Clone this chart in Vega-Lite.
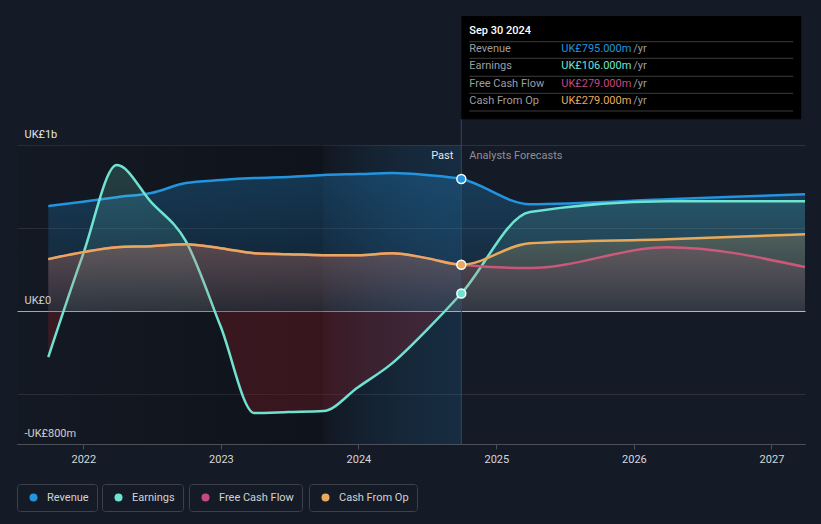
{
  "$schema": "https://vega.github.io/schema/vega-lite/v6.json",
  "width": 788,
  "height": 299,
  "autosize": {"type": "none"},
  "padding": {"left": 17, "top": 145, "right": 16, "bottom": 80},
  "background": "#151b26",
  "config": {
    "view": {"stroke": null},
    "font": "Roboto",
    "axis": {"labelFont": "Roboto", "title": null},
    "legend": {"labelFont": "Roboto"},
    "text": {"font": "Roboto"}
  },
  "data": {
    "values": [
      {"date": "2021-09-30", "series": "Revenue", "value": 632},
      {"date": "2021-12-31", "series": "Revenue", "value": 658},
      {"date": "2022-03-31", "series": "Revenue", "value": 686},
      {"date": "2022-06-30", "series": "Revenue", "value": 711},
      {"date": "2022-09-30", "series": "Revenue", "value": 771},
      {"date": "2022-12-31", "series": "Revenue", "value": 789},
      {"date": "2023-03-31", "series": "Revenue", "value": 801},
      {"date": "2023-06-30", "series": "Revenue", "value": 807},
      {"date": "2023-09-30", "series": "Revenue", "value": 819},
      {"date": "2023-12-31", "series": "Revenue", "value": 825},
      {"date": "2024-03-31", "series": "Revenue", "value": 831},
      {"date": "2024-06-30", "series": "Revenue", "value": 819},
      {"date": "2024-09-30", "series": "Revenue", "value": 795},
      {"date": "2025-03-31", "series": "Revenue", "value": 644},
      {"date": "2026-03-31", "series": "Revenue", "value": 674},
      {"date": "2027-03-31", "series": "Revenue", "value": 704},
      {"date": "2021-09-30", "series": "Earnings", "value": -277},
      {"date": "2021-12-31", "series": "Earnings", "value": 340},
      {"date": "2022-03-31", "series": "Earnings", "value": 879},
      {"date": "2022-06-30", "series": "Earnings", "value": 656},
      {"date": "2022-09-30", "series": "Earnings", "value": 421},
      {"date": "2022-12-31", "series": "Earnings", "value": -90},
      {"date": "2023-03-31", "series": "Earnings", "value": -614},
      {"date": "2023-06-30", "series": "Earnings", "value": -608},
      {"date": "2023-09-30", "series": "Earnings", "value": -602},
      {"date": "2023-12-31", "series": "Earnings", "value": -458},
      {"date": "2024-03-31", "series": "Earnings", "value": -313},
      {"date": "2024-06-30", "series": "Earnings", "value": -114},
      {"date": "2024-09-30", "series": "Earnings", "value": 106},
      {"date": "2025-03-31", "series": "Earnings", "value": 596},
      {"date": "2026-03-31", "series": "Earnings", "value": 662},
      {"date": "2027-03-31", "series": "Earnings", "value": 662},
      {"date": "2021-09-30", "series": "Free Cash Flow", "value": 313},
      {"date": "2021-12-31", "series": "Free Cash Flow", "value": 355},
      {"date": "2022-03-31", "series": "Free Cash Flow", "value": 385},
      {"date": "2022-06-30", "series": "Free Cash Flow", "value": 391},
      {"date": "2022-09-30", "series": "Free Cash Flow", "value": 403},
      {"date": "2022-12-31", "series": "Free Cash Flow", "value": 379},
      {"date": "2023-03-31", "series": "Free Cash Flow", "value": 349},
      {"date": "2023-06-30", "series": "Free Cash Flow", "value": 343},
      {"date": "2023-09-30", "series": "Free Cash Flow", "value": 337},
      {"date": "2023-12-31", "series": "Free Cash Flow", "value": 337},
      {"date": "2024-03-31", "series": "Free Cash Flow", "value": 349},
      {"date": "2024-06-30", "series": "Free Cash Flow", "value": 319},
      {"date": "2024-09-30", "series": "Free Cash Flow", "value": 279},
      {"date": "2025-03-31", "series": "Free Cash Flow", "value": 259},
      {"date": "2026-03-31", "series": "Free Cash Flow", "value": 385},
      {"date": "2027-03-31", "series": "Free Cash Flow", "value": 265},
      {"date": "2021-09-30", "series": "Cash From Op", "value": 313},
      {"date": "2021-12-31", "series": "Cash From Op", "value": 355},
      {"date": "2022-03-31", "series": "Cash From Op", "value": 385},
      {"date": "2022-06-30", "series": "Cash From Op", "value": 391},
      {"date": "2022-09-30", "series": "Cash From Op", "value": 403},
      {"date": "2022-12-31", "series": "Cash From Op", "value": 379},
      {"date": "2023-03-31", "series": "Cash From Op", "value": 349},
      {"date": "2023-06-30", "series": "Cash From Op", "value": 343},
      {"date": "2023-09-30", "series": "Cash From Op", "value": 337},
      {"date": "2023-12-31", "series": "Cash From Op", "value": 337},
      {"date": "2024-03-31", "series": "Cash From Op", "value": 349},
      {"date": "2024-06-30", "series": "Cash From Op", "value": 319},
      {"date": "2024-09-30", "series": "Cash From Op", "value": 279},
      {"date": "2025-03-31", "series": "Cash From Op", "value": 409},
      {"date": "2026-03-31", "series": "Cash From Op", "value": 433},
      {"date": "2027-03-31", "series": "Cash From Op", "value": 463}
    ],
    "format": {"parse": {"date": "date"}}
  },
  "resolve": {"scale": {"color": "independent"}, "legend": {"color": "independent"}},
  "layer": [
    {
      "data": {"values": [{}]},
      "mark": {"type": "rect", "fill": {"gradient": "linear", "x1": 0, "y1": 0, "x2": 1, "y2": 0, "stops": [{"offset": 0, "color": "rgba(0,0,0,0.08)"}, {"offset": 1, "color": "rgba(0,0,0,0.3)"}]}},
      "encoding": {
        "x": {"datum": {"year": 2021, "month": 7, "date": 9}, "type": "temporal"},
        "x2": {"datum": {"year": 2023, "month": 9, "date": 30}},
        "y": {"datum": 1000, "type": "quantitative"},
        "y2": {"datum": -800}
      }
    },
    {
      "data": {"values": [{}]},
      "mark": {"type": "rect", "fill": {"gradient": "linear", "x1": 0, "y1": 0, "x2": 1, "y2": 0, "stops": [{"offset": 0, "color": "rgba(8,12,20,0.25)"}, {"offset": 1, "color": "rgba(35,148,223,0.14)"}]}},
      "encoding": {
        "x": {"datum": {"year": 2023, "month": 9, "date": 30}, "type": "temporal"},
        "x2": {"datum": {"year": 2024, "month": 9, "date": 30}},
        "y": {"datum": 1000, "type": "quantitative"},
        "y2": {"datum": -800}
      }
    },
    {
      "transform": [{"filter": "datum.series == 'Revenue'"}],
      "mark": {"type": "area", "interpolate": "monotone", "fill": {"gradient": "linear", "x1": 0, "y1": 0, "x2": 0, "y2": 1, "stops": [{"offset": 0, "color": "rgba(35,148,223,0.28)"}, {"offset": 1, "color": "rgba(35,148,223,0.08)"}]}},
      "encoding": {
        "x": {"field": "date", "type": "temporal", "title": null, "scale": {"domain": [{"year": 2021, "month": 7, "date": 9}, {"year": 2027, "month": 3, "date": 31}]}},
        "y": {"field": "value", "type": "quantitative", "title": null, "scale": {"domain": [-800, 1000], "nice": false, "zero": false}},
        "y2": {"datum": 0}
      }
    },
    {
      "transform": [{"filter": "datum.series == 'Revenue'"}],
      "mark": {"type": "line", "interpolate": "monotone", "strokeWidth": 2.5},
      "encoding": {
        "x": {"field": "date", "type": "temporal", "title": null,
          "scale": {"domain": [{"year": 2021, "month": 7, "date": 9}, {"year": 2027, "month": 3, "date": 31}]},
          "axis": {"values": [{"year": 2022, "month": 1, "date": 1}, {"year": 2023, "month": 1, "date": 1}, {"year": 2024, "month": 1, "date": 1}, {"year": 2025, "month": 1, "date": 1}, {"year": 2026, "month": 1, "date": 1}, {"year": 2027, "month": 1, "date": 1}],
            "format": "%Y", "grid": false, "domain": true, "domainColor": "#4a4f58", "ticks": true, "tickColor": "#4a4f58", "tickSize": 5, "labelColor": "#d6d8db", "labelFontSize": 11, "labelPadding": 4, "labelOverlap": false, "labelFlush": false}},
        "y": {"field": "value", "type": "quantitative", "title": null,
          "scale": {"domain": [-800, 1000], "nice": false, "zero": false},
          "axis": {"values": [1000, 500, 0, -500, -800],
            "labelExpr": "datum.value == 1000 ? 'UK£1b' : datum.value == 0 ? 'UK£0' : datum.value == -800 ? '-UK£800m' : ''",
            "grid": true, "gridWidth": 1,
            "gridColor": {"condition": [{"test": "datum.value === 0", "value": "#b4b7bc"}, {"test": "datum.value === -800", "value": "#4a4f58"}], "value": "#2c313b"},
            "domain": false, "ticks": false, "tickSize": 0, "labelAlign": "left", "labelPadding": -7, "labelBaseline": "alphabetic", "labelOffset": -8, "labelColor": "#e2e3e5", "labelFontSize": 11, "labelOverlap": false}},
        "color": {"datum": "Revenue", "type": "nominal", "scale": {"range": ["#2394df"]},
          "legend": {"orient": "none", "legendX": 0, "legendY": 339, "title": null, "symbolType": "circle", "symbolSize": 64, "symbolFillColor": "#2394df", "symbolStrokeWidth": 0, "padding": 8, "symbolOffset": 3, "labelOffset": 8, "strokeColor": "#3b404b", "cornerRadius": 3, "labelColor": "#d0d2d5", "labelFontSize": 11}}
      }
    },
    {
      "transform": [{"filter": "datum.series == 'Earnings'"}],
      "mark": {"type": "area", "interpolate": "monotone", "fill": {"gradient": "linear", "x1": 0, "y1": 0, "x2": 0, "y2": 1, "stops": [{"offset": 0, "color": "rgba(111,227,209,0.2)"}, {"offset": 0.588, "color": "rgba(111,227,209,0.05)"}, {"offset": 0.589, "color": "rgba(200,30,40,0.22)"}, {"offset": 1, "color": "rgba(200,30,40,0.22)"}]}},
      "encoding": {
        "x": {"field": "date", "type": "temporal", "title": null},
        "y": {"field": "value", "type": "quantitative", "title": null},
        "y2": {"datum": 0}
      }
    },
    {
      "transform": [{"filter": "datum.series == 'Earnings'"}],
      "mark": {"type": "line", "interpolate": "monotone", "strokeWidth": 2.5},
      "encoding": {
        "x": {"field": "date", "type": "temporal", "title": null},
        "y": {"field": "value", "type": "quantitative", "title": null},
        "color": {"datum": "Earnings", "type": "nominal", "scale": {"range": ["#6fe3d1"]},
          "legend": {"orient": "none", "legendX": 85, "legendY": 339, "title": null, "symbolType": "circle", "symbolSize": 64, "symbolFillColor": "#6fe3d1", "symbolStrokeWidth": 0, "padding": 8, "symbolOffset": 3, "labelOffset": 8, "strokeColor": "#3b404b", "cornerRadius": 3, "labelColor": "#d0d2d5", "labelFontSize": 11}}
      }
    },
    {
      "transform": [{"filter": "datum.series == 'Free Cash Flow'"}],
      "mark": {"type": "area", "interpolate": "monotone", "fill": {"gradient": "linear", "x1": 0, "y1": 0, "x2": 0, "y2": 1, "stops": [{"offset": 0, "color": "rgba(197,72,127,0.18)"}, {"offset": 1, "color": "rgba(197,72,127,0.06)"}]}},
      "encoding": {
        "x": {"field": "date", "type": "temporal", "title": null},
        "y": {"field": "value", "type": "quantitative", "title": null},
        "y2": {"datum": 0}
      }
    },
    {
      "transform": [{"filter": "datum.series == 'Free Cash Flow'"}],
      "mark": {"type": "line", "interpolate": "monotone", "strokeWidth": 2.5},
      "encoding": {
        "x": {"field": "date", "type": "temporal", "title": null},
        "y": {"field": "value", "type": "quantitative", "title": null},
        "color": {"datum": "Free Cash Flow", "type": "nominal", "scale": {"range": ["#c5487f"]},
          "legend": {"orient": "none", "legendX": 172, "legendY": 339, "title": null, "symbolType": "circle", "symbolSize": 64, "symbolFillColor": "#c5487f", "symbolStrokeWidth": 0, "padding": 8, "symbolOffset": 3, "labelOffset": 8, "strokeColor": "#3b404b", "cornerRadius": 3, "labelColor": "#d0d2d5", "labelFontSize": 11}}
      }
    },
    {
      "transform": [{"filter": "datum.series == 'Cash From Op'"}],
      "mark": {"type": "area", "interpolate": "monotone", "fill": {"gradient": "linear", "x1": 0, "y1": 0, "x2": 0, "y2": 1, "stops": [{"offset": 0, "color": "rgba(230,168,90,0.22)"}, {"offset": 1, "color": "rgba(230,168,90,0.06)"}]}},
      "encoding": {
        "x": {"field": "date", "type": "temporal", "title": null},
        "y": {"field": "value", "type": "quantitative", "title": null},
        "y2": {"datum": 0}
      }
    },
    {
      "transform": [{"filter": "datum.series == 'Cash From Op'"}],
      "mark": {"type": "line", "interpolate": "monotone", "strokeWidth": 2.5},
      "encoding": {
        "x": {"field": "date", "type": "temporal", "title": null},
        "y": {"field": "value", "type": "quantitative", "title": null},
        "color": {"datum": "Cash From Op", "type": "nominal", "scale": {"range": ["#e8a95c"]},
          "legend": {"orient": "none", "legendX": 292, "legendY": 339, "title": null, "symbolType": "circle", "symbolSize": 64, "symbolFillColor": "#e8a95c", "symbolStrokeWidth": 0, "padding": 8, "symbolOffset": 3, "labelOffset": 8, "strokeColor": "#3b404b", "cornerRadius": 3, "labelColor": "#d0d2d5", "labelFontSize": 11}}
      }
    },
    {
      "data": {"values": [{}]},
      "mark": {"type": "rule", "stroke": "#2a4a68", "strokeWidth": 1},
      "encoding": {
        "x": {"datum": {"year": 2024, "month": 9, "date": 30}, "type": "temporal"},
        "y": {"datum": -800, "type": "quantitative"},
        "y2": {"datum": 1154.7}
      }
    },
    {
      "transform": [{"filter": "datum.series == 'Revenue' && year(datum.date) == 2024 && month(datum.date) == 8"}],
      "mark": {"type": "circle", "size": 80, "fill": "#2394df", "stroke": "#ffffff", "strokeWidth": 1.5, "opacity": 1},
      "encoding": {
        "x": {"field": "date", "type": "temporal", "title": null},
        "y": {"field": "value", "type": "quantitative", "title": null}
      }
    },
    {
      "transform": [{"filter": "datum.series == 'Earnings' && year(datum.date) == 2024 && month(datum.date) == 8"}],
      "mark": {"type": "circle", "size": 80, "fill": "#6fe3d1", "stroke": "#ffffff", "strokeWidth": 1.5, "opacity": 1},
      "encoding": {
        "x": {"field": "date", "type": "temporal", "title": null},
        "y": {"field": "value", "type": "quantitative", "title": null}
      }
    },
    {
      "transform": [{"filter": "datum.series == 'Cash From Op' && year(datum.date) == 2024 && month(datum.date) == 8"}],
      "mark": {"type": "circle", "size": 80, "fill": "#e8a95c", "stroke": "#ffffff", "strokeWidth": 1.5, "opacity": 1},
      "encoding": {
        "x": {"field": "date", "type": "temporal", "title": null},
        "y": {"field": "value", "type": "quantitative", "title": null}
      }
    },
    {
      "data": {"values": [{}]},
      "mark": {"type": "text", "align": "right", "baseline": "middle", "dx": -8, "fontSize": 11, "fill": "#e6e7e9"},
      "encoding": {
        "x": {"datum": {"year": 2024, "month": 9, "date": 30}, "type": "temporal"},
        "y": {"datum": 933.8, "type": "quantitative"},
        "text": {"value": "Past"}
      }
    },
    {
      "data": {"values": [{}]},
      "mark": {"type": "text", "align": "left", "baseline": "middle", "dx": 8, "fontSize": 11, "fill": "#8c9097"},
      "encoding": {
        "x": {"datum": {"year": 2024, "month": 9, "date": 30}, "type": "temporal"},
        "y": {"datum": 933.8, "type": "quantitative"},
        "text": {"value": "Analysts Forecasts"}
      }
    },
    {
      "data": {"values": [{}]},
      "mark": {"type": "rect", "fill": "#000000"},
      "encoding": {
        "x": {"datum": {"year": 2024, "month": 9, "date": 30}, "type": "temporal"},
        "x2": {"datum": {"year": 2027, "month": 3, "date": 21}},
        "y": {"datum": 1776.6, "type": "quantitative"},
        "y2": {"datum": 1154.7}
      }
    },
    {
      "data": {"values": [{}]},
      "mark": {"type": "rule", "stroke": "#3c3c3c", "strokeWidth": 1, "xOffset": 8, "x2Offset": -8},
      "encoding": {
        "x": {"datum": {"year": 2024, "month": 9, "date": 30}, "type": "temporal"},
        "x2": {"datum": {"year": 2027, "month": 3, "date": 21}},
        "y": {"datum": 1621.9, "type": "quantitative"}
      }
    },
    {
      "data": {"values": [{}]},
      "mark": {"type": "rule", "stroke": "#3c3c3c", "strokeWidth": 1, "xOffset": 8, "x2Offset": -8},
      "encoding": {
        "x": {"datum": {"year": 2024, "month": 9, "date": 30}, "type": "temporal"},
        "x2": {"datum": {"year": 2027, "month": 3, "date": 21}},
        "y": {"datum": 1521.9, "type": "quantitative"}
      }
    },
    {
      "data": {"values": [{}]},
      "mark": {"type": "rule", "stroke": "#3c3c3c", "strokeWidth": 1, "xOffset": 8, "x2Offset": -8},
      "encoding": {
        "x": {"datum": {"year": 2024, "month": 9, "date": 30}, "type": "temporal"},
        "x2": {"datum": {"year": 2027, "month": 3, "date": 21}},
        "y": {"datum": 1413.6, "type": "quantitative"}
      }
    },
    {
      "data": {"values": [{}]},
      "mark": {"type": "rule", "stroke": "#3c3c3c", "strokeWidth": 1, "xOffset": 8, "x2Offset": -8},
      "encoding": {
        "x": {"datum": {"year": 2024, "month": 9, "date": 30}, "type": "temporal"},
        "x2": {"datum": {"year": 2027, "month": 3, "date": 21}},
        "y": {"datum": 1311.2, "type": "quantitative"}
      }
    },
    {
      "data": {"values": [{}]},
      "mark": {"type": "rule", "stroke": "#3c3c3c", "strokeWidth": 1, "xOffset": 8, "x2Offset": -8},
      "encoding": {
        "x": {"datum": {"year": 2024, "month": 9, "date": 30}, "type": "temporal"},
        "x2": {"datum": {"year": 2027, "month": 3, "date": 21}},
        "y": {"datum": 1204.7, "type": "quantitative"}
      }
    },
    {
      "data": {"values": [{}]},
      "mark": {"type": "text", "align": "left", "baseline": "middle", "dx": 8, "fontSize": 11, "fontWeight": 500, "fill": "#ffffff"},
      "encoding": {
        "x": {"datum": {"year": 2024, "month": 9, "date": 30}, "type": "temporal"},
        "y": {"datum": 1686.3, "type": "quantitative"},
        "text": {"value": "Sep 30 2024"}
      }
    },
    {
      "data": {"values": [{}]},
      "mark": {"type": "text", "align": "left", "baseline": "middle", "dx": 8, "fontSize": 11, "fill": "#9c9ea2", "lineHeight": 17.13},
      "encoding": {
        "x": {"datum": {"year": 2024, "month": 9, "date": 30}, "type": "temporal"},
        "y": {"datum": 1576.1, "type": "quantitative"},
        "text": {"value": ["Revenue", "Earnings", "Free Cash Flow", "Cash From Op"]}
      }
    },
    {
      "data": {"values": [{}]},
      "mark": {"type": "text", "align": "left", "baseline": "middle", "dx": 172, "fontSize": 11, "fill": "#9c9ea2", "lineHeight": 17.13},
      "encoding": {
        "x": {"datum": {"year": 2024, "month": 9, "date": 30}, "type": "temporal"},
        "y": {"datum": 1576.1, "type": "quantitative"},
        "text": {"value": ["/yr", "/yr", "/yr", "/yr"]}
      }
    },
    {
      "data": {"values": [{}]},
      "mark": {"type": "text", "align": "left", "baseline": "middle", "dx": 100, "fontSize": 11, "fill": "#2394df"},
      "encoding": {
        "x": {"datum": {"year": 2024, "month": 9, "date": 30}, "type": "temporal"},
        "y": {"datum": 1576.1, "type": "quantitative"},
        "text": {"value": "UK£795.000m"}
      }
    },
    {
      "data": {"values": [{}]},
      "mark": {"type": "text", "align": "left", "baseline": "middle", "dx": 100, "fontSize": 11, "fill": "#6fe3d1"},
      "encoding": {
        "x": {"datum": {"year": 2024, "month": 9, "date": 30}, "type": "temporal"},
        "y": {"datum": 1473.2, "type": "quantitative"},
        "text": {"value": "UK£106.000m"}
      }
    },
    {
      "data": {"values": [{}]},
      "mark": {"type": "text", "align": "left", "baseline": "middle", "dx": 100, "fontSize": 11, "fill": "#c5487f"},
      "encoding": {
        "x": {"datum": {"year": 2024, "month": 9, "date": 30}, "type": "temporal"},
        "y": {"datum": 1369.6, "type": "quantitative"},
        "text": {"value": "UK£279.000m"}
      }
    },
    {
      "data": {"values": [{}]},
      "mark": {"type": "text", "align": "left", "baseline": "middle", "dx": 100, "fontSize": 11, "fill": "#e8a95c"},
      "encoding": {
        "x": {"datum": {"year": 2024, "month": 9, "date": 30}, "type": "temporal"},
        "y": {"datum": 1266.7, "type": "quantitative"},
        "text": {"value": "UK£279.000m"}
      }
    }
  ]
}
